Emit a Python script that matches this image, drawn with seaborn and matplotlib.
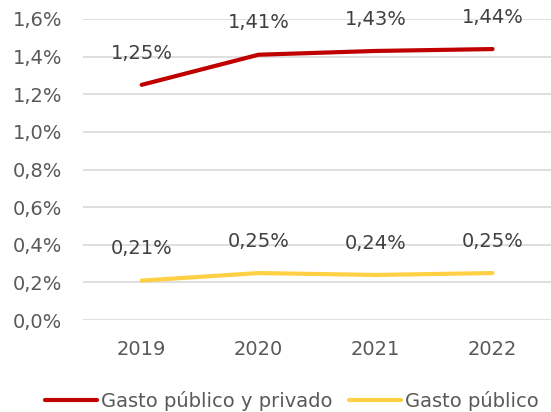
import pandas as pd
import matplotlib.pyplot as plt
import seaborn as sns

years = ["2019", "2020", "2021", "2022"]
gasto_total = [1.25, 1.41, 1.43, 1.44]
gasto_publico = [0.21, 0.25, 0.24, 0.25]
series_names = ["Gasto público y privado", "Gasto público"]
colores = ["#C00000", "#FFD044"]
yticks = [0.0, 0.2, 0.4, 0.6, 0.8, 1.0, 1.2, 1.4, 1.6]

df = pd.DataFrame({
    "year": years * 2,
    "value": gasto_total + gasto_publico,
    "serie": [series_names[0]] * 4 + [series_names[1]] * 4,
})

sns.set_style("white")
plt.rcParams["font.family"] = ["DejaVu Sans"]
gris = "#595959"
fs = 14

fig = plt.figure(figsize=(5.51, 4.12), dpi=100)
ax = fig.add_axes([0.151, 0.223, 0.849, 0.731])

sns.lineplot(data=df, x="year", y="value", hue="serie", palette=colores,
             linewidth=3, ax=ax, sort=False, legend=True)

for vals in [gasto_total, gasto_publico]:
    for i, v in enumerate(vals):
        ax.annotate(f"{v:.2f}%".replace(".", ","), (i, v), xytext=(0, 16),
                    textcoords="offset points", ha="center", va="bottom",
                    fontsize=fs, color="#404040")

ax.set_xlim(-0.5, 3.5)
ax.set_ylim(0, 1.6)
ax.set_yticks(yticks)
ax.set_yticklabels([f"{t:.1f}%".replace(".", ",") for t in yticks])
ax.yaxis.grid(True, color="#D9D9D9", linewidth=1.2)
ax.set_axisbelow(True)
ax.tick_params(axis="y", labelsize=fs, colors=gris, length=0, pad=15)
ax.tick_params(axis="x", labelsize=fs, colors=gris, length=0, pad=14)
ax.set_xlabel("")
ax.set_ylabel("")
for s in ax.spines.values():
    s.set_visible(False)

leg = ax.legend(loc="upper center", bbox_to_anchor=(0.446, -0.177), ncol=2,
                frameon=False, fontsize=fs, handlelength=2.7,
                handletextpad=0.2, columnspacing=0.85)
for t in leg.get_texts():
    t.set_color(gris)

fig.savefig("out.png", dpi=100)
